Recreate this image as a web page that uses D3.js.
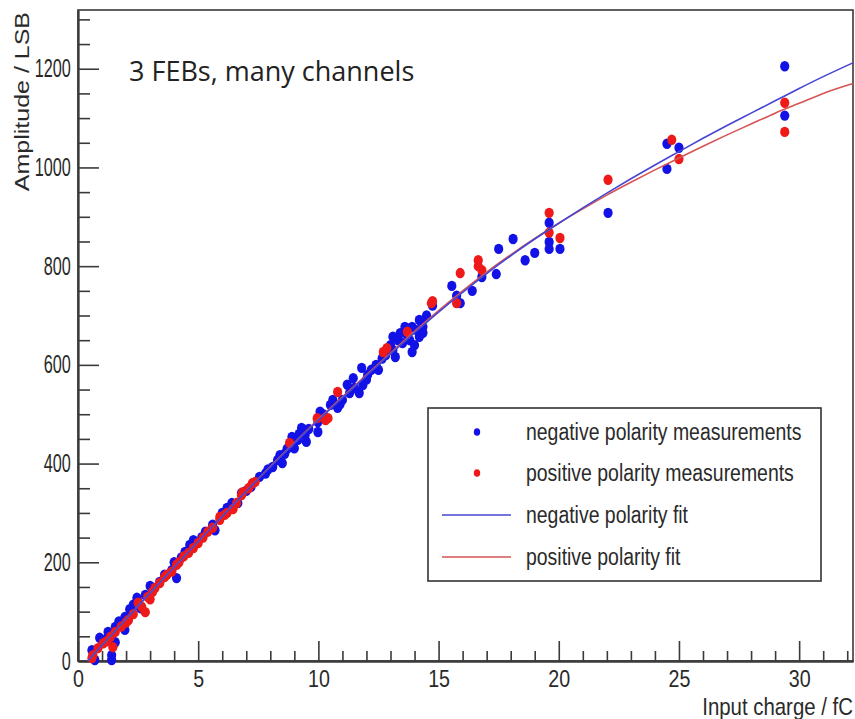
<!DOCTYPE html>
<html>
<head>
<meta charset="utf-8">
<script src="https://cdn.jsdelivr.net/npm/d3@7"></script>
<style>
  html, body { margin: 0; padding: 0; background: #fff; }
  svg { display: block; }
</style>
</head>
<body>
<svg id="chart" width="855" height="719"></svg>
<script>
// Negative polarity measurements (input charge in fC, amplitude in LSB)
const negCharge = [0.58, 0.7, 0.9, 1.2, 1.25, 1.4, 1.4, 1.55, 1.55, 1.7, 1.95, 1.95, 2.15, 2.3, 2.45, 2.5, 2.6, 2.8, 3.0, 3.1,
  3.4, 3.6, 3.9, 4.0, 4.1, 4.3, 4.45, 4.65, 4.8, 4.9, 5.15, 5.3, 5.6, 5.7, 6.0, 6.2, 6.4, 6.65, 6.8, 7.0,
  7.2, 7.55, 7.8, 7.9, 8.1, 8.3, 8.4, 8.5, 8.6, 8.7, 8.9, 9.0, 9.15, 9.2, 9.3, 9.45, 9.5, 9.6, 9.98, 9.98,
  10.07, 10.2, 10.5, 10.6, 10.8, 10.9, 11.0, 11.2, 11.3, 11.45, 11.5, 11.7, 11.8, 11.85, 12.0, 12.05, 12.2, 12.4, 12.5, 12.65,
  12.8, 13.0, 13.1, 13.1, 13.2, 13.3, 13.4, 13.5, 13.6, 13.7, 13.8, 13.9, 13.9, 14.0, 14.1, 14.2, 14.2, 14.3, 14.35, 14.35,
  14.5, 14.75, 15.55, 15.75, 15.9, 16.4, 16.8, 17.4, 17.5, 18.1, 18.6, 19.0, 19.6, 19.6, 19.6, 20.05, 22.05, 24.5, 24.5, 25.0,
  29.4, 29.4];
const negAmp = [22, 2, 47, 45, 59, 12, 2, 69, 38, 80, 89, 63, 105, 114, 128, 120, 107, 134, 152, 144,
  160, 175, 184, 200, 168, 210, 221, 235, 245, 240, 251, 262, 276, 265, 300, 310, 320, 320, 340, 345,
  353, 373, 380, 388, 393, 407, 417, 401, 420, 430, 454, 431, 448, 460, 472, 458, 444, 470, 484, 464,
  505, 500, 519, 529, 513, 520, 529, 560, 543, 573, 553, 543, 594, 559, 570, 580, 590, 600, 590, 613,
  620, 640, 630, 657, 616, 650, 664, 644, 677, 660, 650, 677, 626, 640, 670, 657, 691, 687, 677, 665,
  700, 720, 760, 740, 725, 750, 778, 784, 835, 855, 812, 827, 888, 849, 835, 835, 908, 1048, 997, 1040,
  1205, 1105];

// Positive polarity measurements
const posCharge = [0.58, 0.62, 0.83, 1.05, 1.2, 1.35, 1.45, 1.55, 1.8, 2.0, 2.1, 2.3, 2.5, 2.65, 2.8, 2.9, 3.0, 3.1, 3.2, 3.4,
  3.6, 3.7, 3.9, 4.1, 4.2, 4.4, 4.6, 4.8, 5.0, 5.2, 5.4, 5.6, 5.9, 5.9, 6.1, 6.2, 6.45, 6.6, 6.8, 6.85,
  7.1, 7.25, 7.37, 8.8, 9.95, 10.3, 10.4, 10.8, 12.7, 12.85, 13.7, 14.7, 14.75, 15.75, 15.9, 16.65, 16.65, 16.8, 19.6, 19.6,
  20.05, 22.05, 24.7, 25.0, 29.4, 29.4];
const posAmp = [6, 12, 26, 36, 40, 49, 28, 59, 70, 78, 83, 95, 118, 110, 99, 130, 125, 140, 148, 158,
  170, 175, 181, 195, 200, 212, 219, 229, 239, 250, 262, 270, 286, 292, 296, 300, 308, 320, 336, 342,
  350, 360, 363, 442, 492, 488, 492, 545, 626, 634, 667, 725, 729, 725, 786, 812, 800, 792, 908, 868,
  857, 975, 1056, 1017, 1131, 1072];

// Fitted response curves, sampled along the charge axis
const fitCharge = [0.4, 1, 2, 3, 4, 5, 6, 7, 8, 9, 10, 11, 12, 13, 14, 15, 16, 17, 18, 19,
  20, 21, 22, 23, 24, 25, 26, 27, 28, 29, 30, 31, 32.24];
const negFitAmp = [0, 32, 85, 138, 190, 242, 293, 344, 393, 441, 488, 533, 578, 622, 665, 707, 747, 785, 821, 855,
  887, 918, 948, 977, 1005, 1032, 1059, 1085, 1110, 1135, 1160, 1184, 1212];
const posFitAmp = [0, 32, 85, 138, 190, 242, 293, 344, 394, 442, 490, 535, 580, 624, 668, 710, 750, 788, 823, 856,
  887, 916, 944, 970, 995, 1019, 1043, 1066, 1088, 1110, 1130, 1150, 1170];

// Axis ticks
const xMajorTicks = [0, 5, 10, 15, 20, 25, 30];
const yMajorTicks = [0, 200, 400, 600, 800, 1000, 1200];

const legendLabels = ["negative polarity measurements", "positive polarity measurements",
  "negative polarity fit", "positive polarity fit"];

const BLUE = "#1212e6", RED = "#ee1a1a";
const BLUE_LINE = "#4646d2", RED_LINE = "#d65454";
const AXIS = "#3a3a3a";

const svg = d3.select("#chart");
const plot = { left: 78, right: 853, top: 10, bottom: 661 };

const x = d3.scaleLinear().domain([0, 32.24]).range([plot.left, plot.right]);
const y = d3.scaleLinear().domain([0, 1319]).range([plot.bottom, plot.top]);

// Frame
svg.append("rect")
  .attr("x", plot.left).attr("y", plot.top)
  .attr("width", plot.right - plot.left).attr("height", plot.bottom - plot.top)
  .attr("fill", "none").attr("stroke", AXIS).attr("stroke-width", 1.6);

// Minor tick positions: every 1 fC and every 50 LSB
const xMinor = d3.range(1, 33).filter(v => v % 5 !== 0);
const yMinor = d3.range(50, 1320, 50).filter(v => v % 200 !== 0);

function styleAxis(g) {
  g.select(".domain").attr("stroke", AXIS).attr("stroke-width", 1.8);
  g.selectAll(".tick line").attr("stroke", AXIS).attr("stroke-width", 1.6);
}

svg.append("g")
  .attr("transform", `translate(0,${plot.bottom})`)
  .call(d3.axisBottom(x).tickValues(xMinor).tickSize(-10).tickSizeOuter(0).tickFormat(""))
  .call(styleAxis);

const gx = svg.append("g")
  .attr("transform", `translate(0,${plot.bottom})`)
  .call(d3.axisBottom(x).tickValues(xMajorTicks).tickSize(-20).tickSizeOuter(0).tickPadding(9).tickFormat(d3.format("d")))
  .call(styleAxis);
gx.selectAll(".tick text")
  .attr("font-family", "'Liberation Sans', Arial, sans-serif")
  .attr("font-size", 24).attr("fill", "#2a2a2a")
  .attr("transform", "scale(0.82,1)");

svg.append("g")
  .attr("transform", `translate(${plot.left},0)`)
  .call(d3.axisLeft(y).tickValues(yMinor).tickSize(-12).tickSizeOuter(0).tickFormat(""))
  .call(styleAxis);

const gy = svg.append("g")
  .attr("transform", `translate(${plot.left},0)`)
  .call(d3.axisLeft(y).tickValues(yMajorTicks).tickSize(-21).tickSizeOuter(0).tickPadding(11).tickFormat(d3.format("d")))
  .call(styleAxis);
gy.selectAll(".tick text")
  .attr("font-family", "'Liberation Sans', Arial, sans-serif")
  .attr("font-size", 25).attr("fill", "#2a2a2a")
  .attr("transform", "scale(0.65,1)");

// Axis titles
svg.append("text")
  .attr("transform", `translate(${plot.right},715) scale(0.85,1)`)
  .attr("text-anchor", "end")
  .attr("font-family", "'Liberation Sans', Arial, sans-serif")
  .attr("font-size", 24).attr("fill", "#2a2a2a")
  .text("Input charge / fC");

svg.append("text")
  .attr("transform", "translate(29,12) rotate(-90) scale(1,0.8)")
  .attr("text-anchor", "end")
  .attr("font-family", "'Liberation Sans', Arial, sans-serif")
  .attr("font-size", 25).attr("fill", "#2a2a2a")
  .text("Amplitude / LSB");

// Plot annotation
svg.append("text")
  .attr("x", 129).attr("y", 81)
  .attr("font-family", "'Open Sans', sans-serif")
  .attr("font-size", 27).attr("fill", "#222")
  .text("3 FEBs, many channels");

// Measurements
const negPoints = negCharge.map((c, i) => [c, negAmp[i]]);
const posPoints = posCharge.map((c, i) => [c, posAmp[i]]);

svg.append("g").selectAll("ellipse").data(negPoints).join("ellipse")
  .attr("cx", d => x(d[0])).attr("cy", d => y(d[1]))
  .attr("rx", 4.6).attr("ry", 5.2).attr("fill", BLUE);

svg.append("g").selectAll("ellipse").data(posPoints).join("ellipse")
  .attr("cx", d => x(d[0])).attr("cy", d => y(d[1]))
  .attr("rx", 4.6).attr("ry", 5.2).attr("fill", RED);

// Fit curves
const fitLine = d3.line().x(d => x(d[0])).y(d => y(d[1])).curve(d3.curveMonotoneX);

svg.append("path")
  .datum(fitCharge.map((c, i) => [c, posFitAmp[i]]))
  .attr("d", fitLine).attr("fill", "none")
  .attr("stroke", RED_LINE).attr("stroke-width", 1.6);

svg.append("path")
  .datum(fitCharge.map((c, i) => [c, negFitAmp[i]]))
  .attr("d", fitLine).attr("fill", "none")
  .attr("stroke", BLUE_LINE).attr("stroke-width", 1.6);

// Legend
const legend = svg.append("g");
legend.append("rect")
  .attr("x", 428).attr("y", 408).attr("width", 393).attr("height", 173)
  .attr("fill", "#fff").attr("stroke", "#333").attr("stroke-width", 1.6);

const rowY = [432, 473, 515, 557];
legendLabels.forEach((label, i) => {
  const cy = rowY[i];
  if (i < 2) {
    legend.append("ellipse")
      .attr("cx", 477).attr("cy", cy).attr("rx", 3.2).attr("ry", 3.8)
      .attr("fill", i === 0 ? BLUE : RED);
  } else {
    legend.append("line")
      .attr("x1", 442).attr("x2", 511).attr("y1", cy).attr("y2", cy)
      .attr("stroke", i === 2 ? BLUE_LINE : RED_LINE).attr("stroke-width", 1.6);
  }
  legend.append("text")
    .attr("transform", `translate(526,${cy + 8}) scale(0.81,1)`)
    .attr("font-family", "'Liberation Sans', Arial, sans-serif")
    .attr("font-size", 24).attr("fill", "#2a2a2a")
    .text(label);
});
</script>
</body>
</html>
